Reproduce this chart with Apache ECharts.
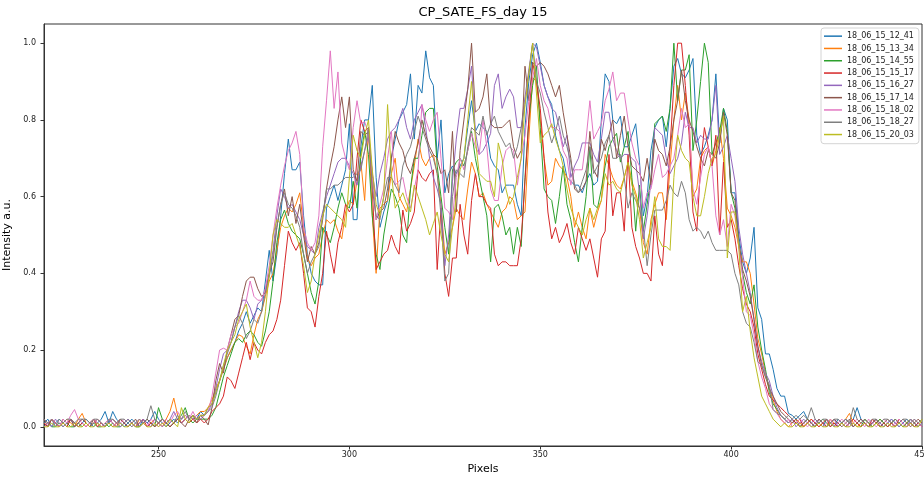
<!DOCTYPE html>
<html>
<head>
<meta charset="utf-8">
<script src="https://cdn.jsdelivr.net/npm/echarts@6/dist/echarts.min.js"></script>
<style>
html,body{margin:0;padding:0;background:#fff;}
#chart{width:924px;height:477px;}
</style>
</head>
<body>
<div id="chart"></div>
<script>
// ---- data ----
const pixelStart = 220;
const seriesNames = ['18_06_15_12_41','18_06_15_13_34','18_06_15_14_55','18_06_15_15_17','18_06_15_16_27','18_06_15_17_14','18_06_15_18_02','18_06_15_18_27','18_06_15_20_03'];
const xTicks = [250, 300, 350, 400, 450];
const yTicks = [0, 0.2, 0.4, 0.6, 0.8, 1.0];

const s12_41 = [
0.01,0.02,0.00,0.01,0.02,0.01,0.00,0.02,0.01,0.00,
0.01,0.02,0.01,0.00,0.01,0.02,0.04,0.01,0.04,0.02,
0.01,0.00,0.01,0.02,0.01,0.00,0.02,0.01,0.02,0.04,
0.02,0.01,0.00,0.01,0.02,0.01,0.02,0.03,0.02,0.03,
0.02,0.04,0.03,0.05,0.06,0.09,0.12,0.15,0.18,0.20,
0.22,0.25,0.27,0.30,0.27,0.29,0.31,0.30,0.38,0.46,
0.38,0.45,0.55,0.66,0.75,0.67,0.67,0.69,0.55,0.45,
0.40,0.38,0.37,0.37,0.57,0.60,0.63,0.59,0.63,0.67,
0.79,0.54,0.54,0.73,0.80,0.80,0.89,0.65,0.52,0.56,
0.59,0.70,0.75,0.80,0.82,0.84,0.92,0.75,0.89,0.87,
0.98,0.91,0.89,0.70,0.80,0.61,0.66,0.68,0.66,0.68,
0.70,0.78,0.85,0.77,0.79,0.78,0.77,0.70,0.68,0.67,
0.61,0.63,0.63,0.63,0.58,0.55,0.78,0.90,0.97,1.00,
0.95,0.89,0.86,0.84,0.76,0.72,0.70,0.65,0.64,0.63,
0.63,0.61,0.64,0.66,0.63,0.64,0.80,0.92,0.90,0.80,
0.79,0.81,0.73,0.73,0.76,0.79,0.69,0.55,0.60,0.72,
0.78,0.80,0.81,0.73,0.83,0.94,0.96,0.92,0.91,0.93,
0.96,0.76,0.71,0.73,0.76,0.80,0.92,0.74,0.83,0.80,
0.61,0.61,0.50,0.43,0.40,0.44,0.52,0.31,0.28,0.19,
0.19,0.15,0.10,0.08,0.08,0.035,0.03,0.02,0.03,0.04,
0.02,0.01,0.02,0.01,0.00,0.02,0.01,0.00,0.02,0.01,
0.00,0.01,0.02,0.05,0.02,0.01,0.00,0.01,0.02,0.01,
0.00,0.01,0.02,0.01,0.00,0.01,0.02,0.01,0.00,0.01,
0.00];

const s13_34 = [
0.01,0.00,0.02,0.01,0.00,0.01,0.02,0.01,0.00,0.02,
0.035,0.01,0.00,0.01,0.02,0.01,0.00,0.01,0.02,0.01,
0.00,0.01,0.02,0.01,0.00,0.02,0.01,0.00,0.01,0.02,
0.01,0.00,0.02,0.04,0.075,0.03,0.01,0.02,0.03,0.02,
0.03,0.04,0.04,0.05,0.07,0.10,0.12,0.15,0.18,0.20,
0.22,0.24,0.235,0.21,0.19,0.24,0.28,0.30,0.34,0.38,
0.40,0.46,0.52,0.55,0.57,0.56,0.58,0.61,0.52,0.44,
0.42,0.44,0.45,0.50,0.54,0.53,0.54,0.51,0.49,0.56,
0.59,0.58,0.64,0.69,0.59,0.78,0.55,0.40,0.57,0.58,
0.59,0.66,0.70,0.60,0.58,0.56,0.62,0.68,0.75,0.70,
0.68,0.70,0.71,0.66,0.58,0.45,0.48,0.52,0.57,0.55,
0.54,0.62,0.69,0.66,0.60,0.61,0.58,0.56,0.54,0.52,
0.56,0.57,0.60,0.59,0.54,0.55,0.56,0.75,0.91,0.90,
0.80,0.70,0.63,0.64,0.70,0.68,0.67,0.65,0.60,0.52,
0.56,0.52,0.49,0.57,0.52,0.56,0.59,0.71,0.68,0.65,
0.63,0.62,0.65,0.69,0.64,0.61,0.57,0.48,0.45,0.54,
0.58,0.61,0.61,0.54,0.68,0.80,0.89,0.80,0.87,0.80,
0.60,0.62,0.70,0.72,0.73,0.68,0.72,0.78,0.70,0.57,
0.55,0.52,0.47,0.43,0.43,0.40,0.32,0.23,0.19,0.14,
0.10,0.07,0.04,0.02,0.01,0.00,0.01,0.02,0.01,0.00,
0.01,0.02,0.01,0.00,0.01,0.00,0.02,0.01,0.00,0.01,
0.02,0.035,0.01,0.00,0.01,0.02,0.01,0.00,0.01,0.02,
0.01,0.00,0.01,0.02,0.01,0.00,0.01,0.02,0.01,0.00,
0.01];

const s14_55 = [
0.00,0.01,0.00,0.00,0.01,0.00,0.01,0.00,0.00,0.01,
0.00,0.01,0.00,0.01,0.00,0.00,0.01,0.00,0.01,0.00,
0.00,0.01,0.02,0.01,0.00,0.00,0.01,0.02,0.01,0.00,
0.05,0.02,0.01,0.00,0.01,0.02,0.03,0.05,0.02,0.01,
0.02,0.02,0.02,0.02,0.03,0.05,0.09,0.13,0.16,0.19,
0.22,0.23,0.22,0.24,0.25,0.24,0.22,0.21,0.25,0.30,
0.38,0.48,0.54,0.565,0.53,0.51,0.50,0.49,0.45,0.40,
0.35,0.32,0.38,0.52,0.50,0.48,0.52,0.57,0.61,0.58,
0.57,0.64,0.57,0.71,0.77,0.71,0.55,0.45,0.41,0.50,
0.56,0.62,0.60,0.57,0.50,0.48,0.62,0.70,0.70,0.76,
0.82,0.83,0.83,0.68,0.60,0.52,0.45,0.67,0.69,0.70,
0.68,0.72,0.77,0.70,0.65,0.60,0.55,0.43,0.57,0.58,
0.55,0.50,0.52,0.45,0.52,0.47,0.65,0.80,0.89,0.94,
0.78,0.62,0.60,0.59,0.53,0.60,0.68,0.58,0.54,0.48,
0.43,0.52,0.60,0.73,0.58,0.57,0.62,0.68,0.73,0.75,
0.765,0.69,0.73,0.77,0.65,0.51,0.63,0.51,0.58,0.65,
0.79,0.80,0.81,0.77,0.83,1.00,0.85,0.93,0.93,0.97,
0.72,0.80,0.90,1.00,0.95,0.71,0.74,0.77,0.83,0.77,
0.61,0.57,0.48,0.40,0.35,0.32,0.37,0.26,0.20,0.15,
0.09,0.06,0.045,0.03,0.02,0.01,0.02,0.01,0.00,0.01,
0.02,0.01,0.00,0.01,0.02,0.01,0.00,0.01,0.00,0.01,
0.02,0.01,0.00,0.01,0.00,0.02,0.01,0.00,0.01,0.02,
0.01,0.00,0.01,0.02,0.01,0.00,0.01,0.02,0.01,0.00,
0.01];

const s15_17 = [
0.01,0.00,0.02,0.01,0.00,0.01,0.00,0.02,0.01,0.00,
0.01,0.00,0.01,0.02,0.00,0.01,0.00,0.01,0.00,0.01,
0.02,0.01,0.00,0.01,0.00,0.01,0.02,0.00,0.01,0.00,
0.01,0.02,0.01,0.00,0.01,0.02,0.01,0.02,0.01,0.02,
0.01,0.02,0.01,0.02,0.04,0.05,0.06,0.08,0.13,0.12,
0.10,0.14,0.18,0.22,0.175,0.22,0.20,0.19,0.22,0.24,
0.25,0.28,0.33,0.42,0.51,0.48,0.46,0.48,0.40,0.31,
0.30,0.26,0.34,0.40,0.51,0.45,0.40,0.48,0.52,0.58,
0.56,0.58,0.70,0.80,0.77,0.78,0.62,0.41,0.43,0.45,
0.46,0.50,0.47,0.45,0.565,0.51,0.53,0.56,0.67,0.65,
0.64,0.66,0.67,0.41,0.57,0.40,0.34,0.44,0.44,0.58,
0.50,0.45,0.59,0.66,0.60,0.60,0.58,0.57,0.45,0.42,
0.43,0.43,0.42,0.42,0.42,0.49,0.64,0.80,0.95,0.90,
0.83,0.70,0.56,0.49,0.52,0.48,0.50,0.53,0.48,0.45,
0.52,0.49,0.46,0.49,0.44,0.39,0.49,0.51,0.71,0.55,
0.61,0.61,0.51,0.71,0.52,0.47,0.44,0.40,0.40,0.38,
0.55,0.45,0.42,0.57,0.73,0.89,1.00,1.00,0.89,0.76,
0.56,0.51,0.68,0.78,0.73,0.68,0.76,0.50,0.69,0.52,
0.54,0.49,0.42,0.36,0.32,0.30,0.26,0.19,0.15,0.11,
0.08,0.07,0.06,0.05,0.04,0.03,0.02,0.01,0.02,0.00,
0.01,0.02,0.01,0.00,0.01,0.02,0.00,0.01,0.00,0.01,
0.00,0.01,0.02,0.01,0.00,0.01,0.00,0.02,0.01,0.00,
0.01,0.00,0.01,0.00,0.02,0.01,0.00,0.01,0.00,0.01,
0.00];

const s16_27 = [
0.02,0.01,0.00,0.02,0.01,0.00,0.01,0.02,0.00,0.01,
0.02,0.01,0.00,0.01,0.02,0.01,0.00,0.01,0.02,0.01,
0.00,0.01,0.02,0.01,0.00,0.01,0.02,0.01,0.00,0.02,
0.01,0.00,0.01,0.02,0.04,0.02,0.01,0.02,0.03,0.02,
0.03,0.02,0.03,0.04,0.06,0.10,0.15,0.19,0.20,0.22,
0.26,0.30,0.33,0.33,0.31,0.28,0.32,0.33,0.36,0.40,
0.46,0.55,0.62,0.60,0.57,0.58,0.56,0.54,0.50,0.47,
0.46,0.45,0.52,0.56,0.60,0.63,0.66,0.69,0.70,0.70,
0.68,0.66,0.63,0.68,0.72,0.76,0.66,0.60,0.66,0.70,
0.75,0.77,0.78,0.80,0.83,0.78,0.75,0.80,0.82,0.84,
0.78,0.70,0.65,0.62,0.58,0.42,0.50,0.64,0.75,0.83,
0.83,0.88,0.94,0.77,0.71,0.72,0.74,0.765,0.89,0.92,
0.83,0.86,0.88,0.86,0.78,0.78,0.86,0.93,1.00,0.99,
0.94,0.89,0.86,0.83,0.82,0.78,0.73,0.76,0.65,0.68,
0.70,0.74,0.74,0.74,0.71,0.69,0.75,0.82,0.82,0.75,
0.72,0.70,0.71,0.71,0.70,0.69,0.61,0.49,0.55,0.64,
0.78,0.77,0.76,0.70,0.66,0.68,0.70,0.74,0.82,0.78,
0.78,0.74,0.76,0.75,0.75,0.80,0.89,0.71,0.73,0.76,
0.70,0.64,0.52,0.45,0.40,0.35,0.28,0.21,0.17,0.14,
0.12,0.08,0.05,0.03,0.02,0.01,0.02,0.00,0.01,0.02,
0.01,0.00,0.01,0.02,0.01,0.00,0.01,0.02,0.00,0.01,
0.02,0.01,0.00,0.01,0.02,0.01,0.00,0.01,0.02,0.01,
0.00,0.01,0.02,0.01,0.00,0.01,0.00,0.02,0.01,0.00,
0.01];

const s17_14 = [
0.02,0.00,0.02,0.01,0.00,0.02,0.01,0.02,0.00,0.01,
0.02,0.01,0.00,0.02,0.01,0.00,0.01,0.02,0.01,0.00,
0.02,0.01,0.00,0.01,0.02,0.00,0.01,0.02,0.01,0.00,
0.01,0.02,0.01,0.00,0.01,0.02,0.01,0.00,0.02,0.03,
0.01,0.03,0.02,0.005,0.05,0.12,0.165,0.14,0.20,0.24,
0.28,0.29,0.34,0.38,0.39,0.39,0.36,0.34,0.35,0.40,
0.43,0.52,0.58,0.62,0.55,0.60,0.53,0.58,0.50,0.43,
0.47,0.45,0.48,0.54,0.62,0.68,0.73,0.80,0.86,0.78,
0.86,0.67,0.64,0.77,0.76,0.77,0.66,0.54,0.56,0.57,
0.62,0.70,0.77,0.74,0.72,0.68,0.66,0.70,0.74,0.80,
0.76,0.73,0.71,0.70,0.66,0.67,0.61,0.77,0.56,0.72,
0.80,0.88,1.00,0.82,0.83,0.86,0.92,0.79,0.78,0.78,
0.78,0.79,0.80,0.73,0.70,0.72,0.94,0.85,0.95,0.94,
0.95,0.94,0.92,0.89,0.86,0.89,0.82,0.76,0.70,0.62,
0.61,0.62,0.64,0.77,0.67,0.65,0.75,0.72,0.76,0.80,
0.70,0.76,0.81,0.73,0.68,0.67,0.66,0.64,0.70,0.63,
0.75,0.72,0.71,0.68,0.73,0.80,0.85,0.93,0.85,0.80,
0.77,0.73,0.70,0.68,0.72,0.71,0.70,0.74,0.82,0.76,
0.61,0.59,0.48,0.41,0.38,0.34,0.28,0.21,0.16,0.13,
0.10,0.08,0.06,0.04,0.03,0.02,0.01,0.02,0.00,0.01,
0.02,0.01,0.00,0.02,0.01,0.00,0.01,0.02,0.01,0.00,
0.01,0.02,0.00,0.01,0.02,0.01,0.00,0.01,0.02,0.00,
0.01,0.02,0.01,0.00,0.01,0.02,0.01,0.00,0.01,0.02,
0.01];

const s18_02 = [
0.00,0.01,0.02,0.01,0.00,0.02,0.01,0.03,0.045,0.02,
0.01,0.00,0.01,0.02,0.01,0.00,0.01,0.02,0.01,0.00,
0.01,0.02,0.01,0.00,0.01,0.02,0.01,0.00,0.02,0.01,
0.00,0.01,0.02,0.01,0.03,0.04,0.02,0.03,0.02,0.04,
0.02,0.03,0.03,0.04,0.08,0.14,0.20,0.205,0.20,0.24,
0.26,0.27,0.30,0.33,0.38,0.34,0.33,0.33,0.36,0.42,
0.50,0.57,0.63,0.68,0.72,0.74,0.77,0.71,0.52,0.48,
0.46,0.48,0.55,0.73,0.85,0.98,0.83,0.925,0.74,0.70,
0.67,0.78,0.85,0.79,0.795,0.765,0.65,0.54,0.58,0.62,
0.70,0.77,0.63,0.64,0.65,0.60,0.57,0.62,0.67,0.84,
0.80,0.77,0.80,0.82,0.70,0.57,0.56,0.54,0.65,0.70,
0.67,0.72,0.765,0.73,0.71,0.80,0.73,0.62,0.59,0.59,
0.68,0.72,0.73,0.72,0.63,0.70,0.76,0.85,0.91,0.96,
0.89,0.85,0.83,0.78,0.78,0.77,0.72,0.70,0.63,0.67,
0.67,0.67,0.75,0.85,0.75,0.77,0.79,0.85,0.88,0.925,
0.85,0.87,0.87,0.80,0.74,0.70,0.68,0.57,0.61,0.62,
0.67,0.71,0.65,0.66,0.68,0.70,0.76,0.83,0.78,0.79,
0.62,0.58,0.65,0.71,0.73,0.68,0.55,0.50,0.54,0.47,
0.58,0.55,0.47,0.39,0.30,0.29,0.24,0.17,0.13,0.10,
0.06,0.045,0.035,0.02,0.01,0.02,0.00,0.01,0.02,0.01,
0.00,0.01,0.02,0.01,0.00,0.01,0.02,0.00,0.01,0.02,
0.01,0.00,0.01,0.02,0.01,0.00,0.02,0.01,0.00,0.01,
0.02,0.01,0.00,0.01,0.02,0.01,0.00,0.01,0.02,0.01,
0.00];

const s18_27 = [
0.02,0.01,0.02,0.00,0.02,0.01,0.02,0.02,0.01,0.02,
0.02,0.02,0.01,0.02,0.02,0.01,0.00,0.02,0.02,0.01,
0.02,0.02,0.01,0.00,0.01,0.02,0.01,0.02,0.055,0.02,
0.01,0.02,0.01,0.02,0.01,0.03,0.02,0.04,0.02,0.03,
0.02,0.03,0.03,0.04,0.05,0.08,0.12,0.16,0.19,0.22,
0.26,0.29,0.27,0.23,0.25,0.28,0.27,0.30,0.35,0.39,
0.45,0.52,0.58,0.61,0.58,0.57,0.55,0.52,0.45,0.40,
0.43,0.45,0.47,0.55,0.62,0.62,0.63,0.63,0.64,0.65,
0.65,0.65,0.66,0.67,0.72,0.78,0.62,0.55,0.54,0.60,
0.65,0.65,0.63,0.61,0.68,0.71,0.73,0.77,0.81,0.78,
0.75,0.72,0.70,0.66,0.55,0.38,0.40,0.60,0.67,0.66,
0.65,0.73,0.78,0.77,0.76,0.81,0.76,0.79,0.81,0.77,
0.75,0.73,0.74,0.70,0.73,0.78,0.84,0.92,1.00,0.90,
0.87,0.82,0.78,0.74,0.77,0.81,0.76,0.73,0.69,0.63,
0.61,0.64,0.67,0.73,0.66,0.68,0.70,0.74,0.76,0.70,
0.70,0.71,0.65,0.57,0.61,0.59,0.57,0.52,0.42,0.50,
0.565,0.565,0.565,0.59,0.63,0.61,0.60,0.64,0.61,0.54,
0.51,0.52,0.51,0.49,0.51,0.48,0.46,0.46,0.46,0.46,
0.45,0.40,0.37,0.30,0.27,0.26,0.22,0.17,0.16,0.13,
0.11,0.045,0.035,0.03,0.02,0.03,0.02,0.03,0.02,0.03,
0.02,0.05,0.02,0.01,0.02,0.02,0.01,0.02,0.02,0.01,
0.02,0.01,0.05,0.02,0.01,0.02,0.01,0.02,0.02,0.01,
0.02,0.02,0.01,0.02,0.01,0.02,0.02,0.01,0.02,0.01,
0.02];

const s20_03 = [
0.00,0.00,0.01,0.00,0.00,0.01,0.00,0.00,0.01,0.00,
0.00,0.01,0.00,0.00,0.01,0.00,0.00,0.01,0.00,0.00,
0.01,0.00,0.00,0.01,0.00,0.00,0.01,0.00,0.00,0.01,
0.00,0.01,0.00,0.02,0.01,0.00,0.05,0.02,0.01,0.03,
0.02,0.03,0.03,0.05,0.06,0.09,0.12,0.16,0.20,0.22,
0.24,0.28,0.30,0.32,0.26,0.22,0.18,0.22,0.30,0.40,
0.50,0.54,0.53,0.52,0.52,0.53,0.50,0.47,0.42,0.35,
0.38,0.45,0.50,0.55,0.58,0.57,0.56,0.55,0.54,0.52,
0.65,0.76,0.72,0.70,0.76,0.80,0.67,0.58,0.55,0.60,
0.84,0.66,0.57,0.59,0.61,0.58,0.56,0.63,0.60,0.57,
0.54,0.50,0.53,0.56,0.50,0.45,0.43,0.52,0.60,0.67,
0.70,0.80,0.90,0.75,0.66,0.65,0.64,0.64,0.60,0.74,
0.70,0.62,0.58,0.60,0.65,0.70,0.84,0.92,1.00,0.87,
0.74,0.76,0.77,0.79,0.75,0.72,0.68,0.62,0.57,0.54,
0.52,0.50,0.54,0.57,0.54,0.57,0.59,0.66,0.63,0.64,
0.62,0.61,0.65,0.69,0.63,0.60,0.54,0.44,0.48,0.52,
0.60,0.49,0.47,0.47,0.46,0.65,0.76,0.72,0.70,0.69,
0.60,0.55,0.55,0.60,0.66,0.70,0.71,0.76,0.81,0.44,
0.56,0.56,0.47,0.30,0.34,0.25,0.18,0.13,0.08,0.06,
0.04,0.02,0.01,0.00,0.01,0.00,0.00,0.01,0.00,0.00,
0.01,0.00,0.00,0.01,0.00,0.00,0.01,0.00,0.00,0.01,
0.00,0.00,0.01,0.00,0.00,0.01,0.00,0.00,0.01,0.00,
0.00,0.01,0.00,0.00,0.01,0.00,0.00,0.01,0.00,0.00,
0.02];

const seriesValues = [s12_41, s13_34, s14_55, s15_17, s16_27, s17_14, s18_02, s18_27, s20_03];
const colors = ['#1f77b4','#ff7f0e','#2ca02c','#d62728','#9467bd','#8c564b','#e377c2','#7f7f7f','#bcbd22'];

// ---- chart ----
const FONT = 'DejaVu Sans';
const chart = echarts.init(document.getElementById('chart'), null, {renderer: 'canvas'});

function toPoints(vals) { return vals.map((v, i) => [pixelStart + i, v]); }

const option = {
  animation: false,
  backgroundColor: '#fff',
  color: colors,
  grid: {
    left: 44, right: 2, top: 24, bottom: 31,
    containLabel: false, outerBoundsMode: 'none',
    show: true, borderColor: '#333', borderWidth: 1, backgroundColor: 'transparent'
  },
  graphic: [{
    type: 'text', x: 483, y: 13, silent: true,
    style: { text: 'CP_SATE_FS_day 15', fontFamily: FONT, fontSize: 13, fill: '#000', align: 'center', verticalAlign: 'middle' }
  }],
  legend: {
    orient: 'vertical', left: 821, top: 28,
    icon: 'rect', itemWidth: 18, itemHeight: 1.5, itemGap: 0,
    padding: [2, 5, 3, 3],
    backgroundColor: 'rgba(255,255,255,0.85)', borderColor: '#d4d4d4', borderWidth: 1, borderRadius: 3,
    textStyle: { fontFamily: FONT, fontSize: 8, color: '#222', lineHeight: 12.3 },
    data: seriesNames
  },
  xAxis: {
    type: 'value', min: 220, max: 450,
    name: 'Pixels', nameLocation: 'middle', nameGap: 15,
    nameTextStyle: { fontFamily: FONT, fontSize: 11, color: '#000' },
    axisLine: { show: true, onZero: false, lineStyle: { color: '#333', width: 1 } },
    axisTick: { show: true, length: 3.5, customValues: xTicks, lineStyle: { color: '#333' } },
    axisLabel: { customValues: xTicks, margin: 5, fontFamily: FONT, fontSize: 8, color: '#222' },
    splitLine: { show: false }
  },
  yAxis: {
    type: 'value', min: -0.05, max: 1.05,
    name: 'Intensity a.u.', nameLocation: 'middle', nameGap: 18, nameRotate: 90,
    nameTextStyle: { fontFamily: FONT, fontSize: 11, color: '#000' },
    axisLine: { show: true, onZero: false, lineStyle: { color: '#333', width: 1 } },
    axisTick: { show: true, length: 3.5, customValues: yTicks, lineStyle: { color: '#333' } },
    axisLabel: { customValues: yTicks, margin: 8, fontFamily: FONT, fontSize: 8, color: '#222',
                 formatter: v => Number(v).toFixed(1) },
    splitLine: { show: false }
  },
  series: seriesNames.map((name, k) => ({
    name: name, type: 'line', showSymbol: false, symbol: 'none',
    data: toPoints(seriesValues[k]),
    lineStyle: { width: 1, color: colors[k] },
    itemStyle: { color: colors[k] },
    emphasis: { disabled: true }
  }))
};
chart.setOption(option);
</script>
</body>
</html>
